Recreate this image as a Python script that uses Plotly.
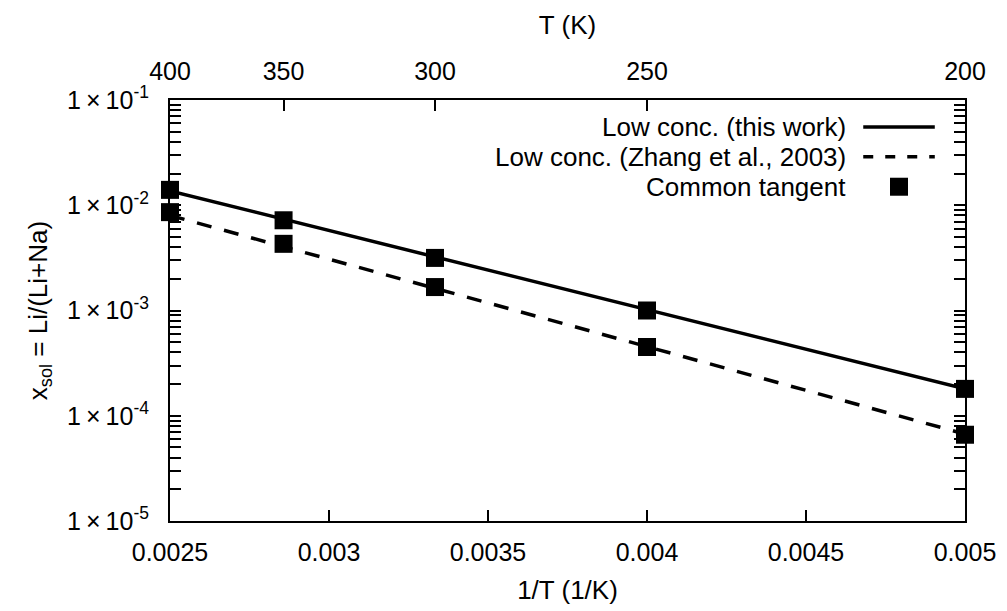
import plotly.graph_objects as go

# ---- data ----
temps_K = [400, 350, 300, 250, 200]
inv_T = [1.0 / t for t in temps_K]

# Common tangent points
tangent_upper = [0.0140, 0.0072, 0.00316, 0.00100, 0.000180]
tangent_lower = [0.0086, 0.0043, 0.00167, 0.00045, 0.000066]

# Low-concentration fit lines (end points on 1/T axis)
fit_x = [0.0025, 0.005]
fit_this_work = [0.0137, 0.000180]
fit_zhang = [0.0080, 0.000067]

x_ticks = [0.0025, 0.003, 0.0035, 0.004, 0.0045, 0.005]
x_ticklabels = ["0.0025", "0.003", "0.0035", "0.004", "0.0045", "0.005"]
y_ticks = [1e-5, 1e-4, 1e-3, 1e-2, 1e-1]
y_ticklabels = ["1\u2009×\u200910<sup>-5</sup>", "1\u2009×\u200910<sup>-4</sup>",
                "1\u2009×\u200910<sup>-3</sup>", "1\u2009×\u200910<sup>-2</sup>",
                "1\u2009×\u200910<sup>-1</sup>"]
top_ticklabels = [str(t) for t in temps_K]

legend_labels = ["Low conc. (this work)", "Low conc. (Zhang et al., 2003)", "Common tangent"]

FONT = "Liberation Sans, Arial, Helvetica, sans-serif"
FS = 26
TFS = 25

fig = go.Figure()
fig.add_trace(go.Scatter(x=fit_x, y=fit_this_work, mode="lines",
                         line=dict(color="black", width=3.5), showlegend=False))
fig.add_trace(go.Scatter(x=fit_x, y=fit_zhang, mode="lines",
                         line=dict(color="black", width=3.5, dash="15px,13px"), showlegend=False))
fig.add_trace(go.Scatter(x=inv_T + inv_T, y=tangent_upper + tangent_lower, mode="markers",
                         marker=dict(symbol="square", size=18, color="black"),
                         cliponaxis=False, showlegend=False))
# invisible trace to anchor top axis
fig.add_trace(go.Scatter(x=inv_T, y=tangent_upper, xaxis="x2", mode="markers",
                         marker=dict(opacity=0), hoverinfo="skip", showlegend=False))

fig.update_layout(
    width=1000, height=604,
    margin=dict(l=162, r=32, t=92, b=82),
    paper_bgcolor="white", plot_bgcolor="white",
    font=dict(family=FONT, size=FS, color="black"),
    showlegend=False,
    xaxis=dict(range=[0.0025, 0.005], tickvals=x_ticks, ticktext=x_ticklabels,
               tickfont=dict(size=TFS),
               ticks="inside", ticklen=11, tickwidth=1.5, tickcolor="black",
               showline=True, linecolor="black", linewidth=2, mirror=True,
               showgrid=False, zeroline=False, ticklabelstandoff=8,
               title=dict(text="1/T (1/K)", standoff=16, font=dict(size=FS))),
    xaxis2=dict(range=[0.0025, 0.005], overlaying="x", side="top",
                tickvals=inv_T, ticktext=top_ticklabels, tickfont=dict(size=TFS),
                ticks="inside", ticklen=11, tickwidth=1.5, tickcolor="black",
                showgrid=False, zeroline=False, showline=False, ticklabelstandoff=14,
                title=dict(text="T (K)", standoff=14, font=dict(size=FS))),
    yaxis=dict(type="log", range=[-5, -1], tickvals=y_ticks, ticktext=y_ticklabels,
               tickfont=dict(size=TFS),
               ticks="inside", ticklen=11, tickwidth=1.5, tickcolor="black",
               minor=dict(ticks="inside", ticklen=6, tickwidth=1.5, tickcolor="black",
                          dtick="D1", showgrid=False),
               showline=True, linecolor="black", linewidth=2, mirror="allticks",
               showgrid=False, zeroline=False, ticklabelstandoff=14,
               title=dict(text="x<sub>sol</sub> = Li/(Li+Na)", standoff=12, font=dict(size=FS))),
)

# custom legend (text on left, sample on right) in paper coordinates
row_y = [0.936, 0.865, 0.794]
text_x = 0.853
samp_x0, samp_x1 = 0.872, 0.962
for i, lab in enumerate(legend_labels):
    fig.add_annotation(x=text_x, y=row_y[i], xref="paper", yref="paper", text=lab,
                       showarrow=False, xanchor="right", yanchor="middle",
                       font=dict(family=FONT, size=FS, color="black"))
fig.add_shape(type="line", xref="paper", yref="paper", x0=samp_x0, x1=samp_x1,
              y0=row_y[0], y1=row_y[0], line=dict(color="black", width=3.5))
fig.add_shape(type="line", xref="paper", yref="paper", x0=samp_x0, x1=samp_x1,
              y0=row_y[1], y1=row_y[1], line=dict(color="black", width=3.5, dash="10px,12px"))
fig.add_trace(go.Scatter(x=[(samp_x0 + samp_x1) / 2], y=[row_y[2]], xaxis="x3", yaxis="y3",
                         mode="markers", marker=dict(symbol="square", size=18, color="black"),
                         showlegend=False, hoverinfo="skip"))
fig.update_layout(
    xaxis3=dict(range=[0, 1], domain=[0, 1], anchor="y3", overlaying="x", visible=False),
    yaxis3=dict(range=[0, 1], domain=[0, 1], anchor="x3", overlaying="y", visible=False),
)

fig.write_html("out.html")
